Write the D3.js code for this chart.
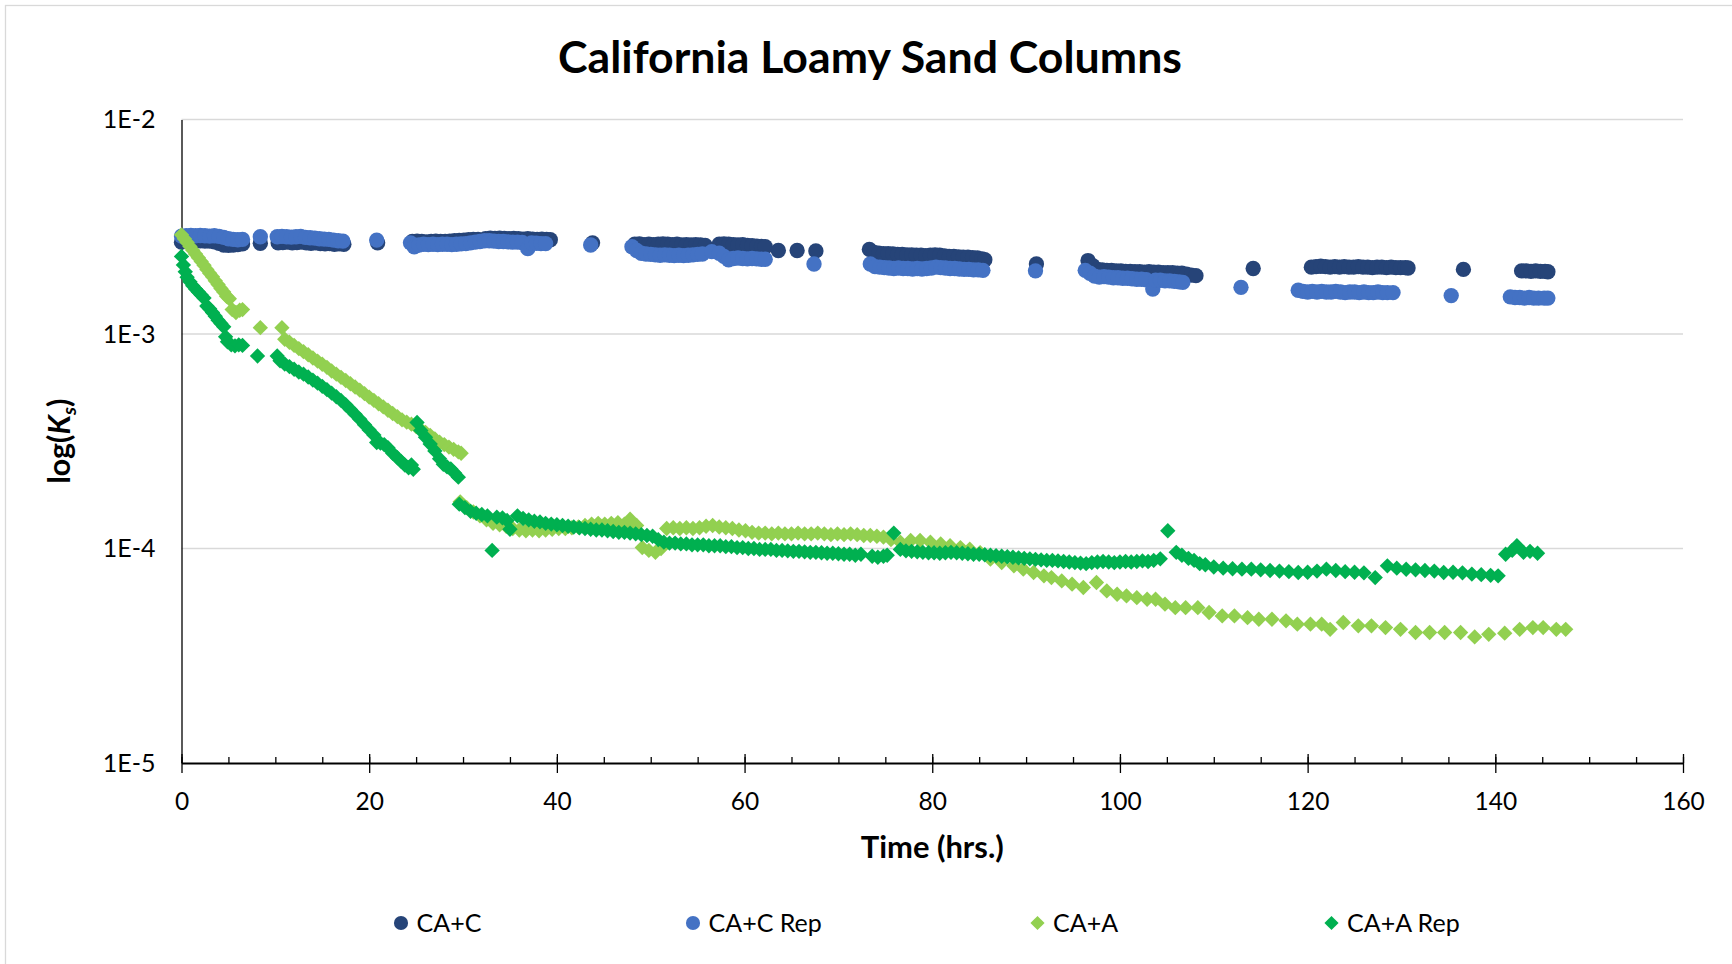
<!DOCTYPE html>
<html>
<head>
<meta charset="utf-8">
<script src="https://cdn.jsdelivr.net/npm/d3@7"></script>
<style>
  body { margin: 0; background: #fff; }
  svg { display: block; font-family: Lato, "Open Sans", sans-serif; }
</style>
</head>
<body>
<svg id="chart" width="1732" height="964"></svg>
<script>
const seriesNames = ['CA+C', 'CA+C Rep', 'CA+A', 'CA+A Rep'];
const xTicks = [0, 20, 40, 60, 80, 100, 120, 140, 160];
const yTicks = [1e-2, 1e-3, 1e-4, 1e-5];
const yTickLabels = ['1E-2', '1E-3', '1E-4', '1E-5'];

// [time (hrs), Ks]
const caC = [
  [0,2.68e-3],[0.5,2.72e-3],[1,2.74e-3],[1.5,2.73e-3],[2,2.72e-3],[2.5,2.71e-3],[3,2.71e-3],[3.5,2.69e-3],[4,2.65e-3],[4.5,2.60e-3],[5,2.59e-3],[5.5,2.60e-3],[6,2.61e-3],[6.5,2.63e-3],
  [8.4,2.65e-3],
  [10.3,2.66e-3],[10.8,2.67e-3],[11.3,2.68e-3],[11.8,2.66e-3],[12.3,2.67e-3],[12.8,2.68e-3],[13.3,2.66e-3],[13.8,2.65e-3],[14.3,2.66e-3],[14.8,2.64e-3],[15.3,2.63e-3],[15.8,2.64e-3],[16.3,2.62e-3],[16.8,2.63e-3],[17.3,2.62e-3],
  [20.9,2.66e-3],
  [24.6,2.70e-3],[25.1,2.71e-3],[25.6,2.70e-3],[26.1,2.69e-3],[26.6,2.70e-3],[27.1,2.71e-3],[27.6,2.70e-3],[28.1,2.70e-3],[28.6,2.71e-3],[29.1,2.72e-3],[29.6,2.73e-3],[30.1,2.74e-3],[30.6,2.75e-3],[31.1,2.76e-3],[31.6,2.76e-3],
  [32.4,2.78e-3],[32.9,2.80e-3],[33.4,2.79e-3],[33.9,2.80e-3],[34.4,2.79e-3],[34.9,2.78e-3],[35.4,2.79e-3],[35.9,2.78e-3],[36.4,2.77e-3],[36.9,2.78e-3],[37.4,2.77e-3],[37.9,2.76e-3],[38.4,2.77e-3],[38.9,2.76e-3],[39.3,2.75e-3],
  [43.8,2.66e-3],
  [48.3,2.62e-3],[48.8,2.63e-3],[49.3,2.61e-3],[49.8,2.62e-3],[50.3,2.61e-3],[50.8,2.62e-3],[51.3,2.63e-3],[51.8,2.62e-3],[52.3,2.61e-3],[52.8,2.62e-3],[53.3,2.60e-3],[53.8,2.61e-3],[54.3,2.60e-3],[54.8,2.61e-3],[55.3,2.60e-3],[55.8,2.59e-3],
  [57.3,2.62e-3],[57.8,2.63e-3],[58.3,2.62e-3],[58.8,2.61e-3],[59.3,2.60e-3],[59.8,2.61e-3],[60.3,2.59e-3],[60.8,2.58e-3],[61.3,2.57e-3],[61.8,2.56e-3],[62.2,2.55e-3],
  [63.6,2.45e-3],[65.6,2.45e-3],[67.6,2.44e-3],
  [73.3,2.48e-3],[73.8,2.40e-3],[74.3,2.38e-3],[74.8,2.37e-3],[75.3,2.37e-3],[75.8,2.36e-3],[76.3,2.35e-3],[76.8,2.35e-3],[77.3,2.34e-3],[77.8,2.34e-3],[78.3,2.33e-3],[78.8,2.33e-3],[79.3,2.32e-3],[79.8,2.33e-3],[80.3,2.34e-3],[80.8,2.33e-3],[81.3,2.31e-3],[81.8,2.30e-3],[82.3,2.30e-3],[82.8,2.29e-3],[83.3,2.28e-3],[83.8,2.28e-3],[84.3,2.27e-3],[84.8,2.26e-3],[85.3,2.24e-3],[85.6,2.22e-3],
  [91.1,2.12e-3],
  [96.6,2.20e-3],[97.1,2.08e-3],[97.6,2.00e-3],[98.1,1.99e-3],[98.6,1.98e-3],[99.1,1.98e-3],[99.6,1.97e-3],[100.1,1.97e-3],[100.6,1.96e-3],[101.1,1.96e-3],[101.6,1.95e-3],[102.1,1.95e-3],[102.6,1.94e-3],[103.1,1.95e-3],[103.6,1.94e-3],[104.1,1.94e-3],[104.6,1.93e-3],[105.1,1.93e-3],[105.6,1.93e-3],[106.1,1.92e-3],[106.6,1.92e-3],[107.1,1.90e-3],[107.6,1.88e-3],[108.1,1.87e-3],
  [114.2,2.02e-3],
  [120.4,2.05e-3],[120.9,2.06e-3],[121.4,2.07e-3],[121.9,2.06e-3],[122.4,2.05e-3],[122.9,2.06e-3],[123.4,2.05e-3],[123.9,2.06e-3],[124.4,2.05e-3],[124.9,2.05e-3],[125.4,2.06e-3],[125.9,2.05e-3],[126.4,2.05e-3],[126.9,2.04e-3],[127.4,2.05e-3],[127.9,2.05e-3],[128.4,2.04e-3],[128.9,2.05e-3],[129.4,2.04e-3],[129.9,2.04e-3],[130.4,2.04e-3],[130.7,2.03e-3],
  [136.6,2.00e-3],
  [142.8,1.97e-3],[143.3,1.97e-3],[143.8,1.96e-3],[144.3,1.97e-3],[144.8,1.96e-3],[145.3,1.96e-3],[145.6,1.95e-3]
];

const caCRep = [
  [0,2.86e-3],[0.5,2.87e-3],[1,2.88e-3],[1.5,2.87e-3],[2,2.88e-3],[2.5,2.87e-3],[3,2.86e-3],[3.5,2.87e-3],[4,2.85e-3],[4.5,2.82e-3],[5,2.78e-3],[5.5,2.76e-3],[6,2.75e-3],[6.5,2.76e-3],
  [8.4,2.84e-3],
  [10.2,2.84e-3],[10.7,2.85e-3],[11.2,2.84e-3],[11.7,2.83e-3],[12.2,2.84e-3],[12.7,2.85e-3],[13.2,2.82e-3],[13.7,2.81e-3],[14.2,2.80e-3],[14.7,2.78e-3],[15.2,2.77e-3],[15.7,2.76e-3],[16.2,2.74e-3],[16.7,2.72e-3],[17.2,2.71e-3],
  [20.8,2.74e-3],
  [24.4,2.66e-3],[24.8,2.55e-3],[25.3,2.60e-3],[25.8,2.62e-3],[26.3,2.61e-3],[26.8,2.62e-3],[27.3,2.61e-3],[27.8,2.62e-3],[28.3,2.62e-3],[28.8,2.61e-3],[29.3,2.62e-3],[29.8,2.63e-3],[30.3,2.64e-3],[30.8,2.66e-3],[31.3,2.68e-3],[31.8,2.70e-3],
  [32.3,2.72e-3],[32.8,2.72e-3],[33.3,2.71e-3],[33.8,2.70e-3],[34.3,2.70e-3],[34.8,2.69e-3],[35.3,2.68e-3],[35.8,2.68e-3],[36.3,2.67e-3],[36.9,2.50e-3],[37.3,2.66e-3],[37.8,2.65e-3],[38.3,2.64e-3],[38.8,2.64e-3],
  [43.6,2.60e-3],
  [48.0,2.55e-3],[48.5,2.45e-3],[49.0,2.38e-3],[49.5,2.36e-3],[50.0,2.35e-3],[50.5,2.34e-3],[51.0,2.33e-3],[51.5,2.34e-3],[52.0,2.33e-3],[52.5,2.32e-3],[53.0,2.33e-3],[53.5,2.32e-3],[54.0,2.33e-3],[54.5,2.34e-3],[55.0,2.35e-3],[55.5,2.36e-3],
  [56.5,2.42e-3],
  [57.3,2.38e-3],[57.8,2.30e-3],[58.3,2.22e-3],[58.8,2.25e-3],[59.3,2.26e-3],[59.8,2.25e-3],[60.3,2.24e-3],[60.8,2.25e-3],[61.3,2.24e-3],[61.8,2.23e-3],[62.2,2.23e-3],
  [67.4,2.12e-3],
  [73.4,2.12e-3],[73.9,2.06e-3],[74.4,2.05e-3],[74.9,2.04e-3],[75.4,2.03e-3],[75.9,2.02e-3],[76.4,2.03e-3],[76.9,2.02e-3],[77.4,2.02e-3],[77.9,2.01e-3],[78.4,2.02e-3],[78.9,2.01e-3],[79.4,2.02e-3],[79.9,2.03e-3],[80.4,2.05e-3],[80.9,2.04e-3],[81.4,2.03e-3],[81.9,2.02e-3],[82.4,2.02e-3],[82.9,2.01e-3],[83.4,2.00e-3],[83.9,2.00e-3],[84.4,1.99e-3],[84.9,1.99e-3],[85.4,1.98e-3],
  [91.0,1.97e-3],
  [96.3,1.98e-3],[96.8,1.92e-3],[97.3,1.86e-3],[97.8,1.84e-3],[98.3,1.85e-3],[98.8,1.84e-3],[99.3,1.83e-3],[99.8,1.83e-3],[100.3,1.82e-3],[100.8,1.82e-3],[101.3,1.81e-3],[101.8,1.80e-3],[102.3,1.80e-3],[102.8,1.79e-3],[103.5,1.62e-3],[103.8,1.78e-3],[104.3,1.78e-3],[104.8,1.77e-3],[105.3,1.77e-3],[105.8,1.76e-3],[106.3,1.75e-3],[106.7,1.74e-3],
  [112.9,1.65e-3],
  [119.0,1.60e-3],[119.5,1.58e-3],[120.0,1.57e-3],[120.5,1.58e-3],[121.0,1.57e-3],[121.5,1.58e-3],[122.0,1.57e-3],[122.5,1.57e-3],[123.0,1.58e-3],[123.5,1.57e-3],[124.0,1.56e-3],[124.5,1.57e-3],[125.0,1.57e-3],[125.5,1.56e-3],[126.0,1.57e-3],[126.5,1.56e-3],[127.0,1.56e-3],[127.5,1.57e-3],[128.0,1.56e-3],[128.5,1.56e-3],[129.1,1.56e-3],
  [135.3,1.51e-3],
  [141.6,1.49e-3],[142.1,1.48e-3],[142.6,1.48e-3],[143.1,1.47e-3],[143.6,1.48e-3],[144.1,1.47e-3],[144.6,1.47e-3],[145.2,1.47e-3],[145.6,1.47e-3]
];

const caA = [
  [0,2.90e-3],[0.3,2.78e-3],[0.6,2.67e-3],[0.9,2.56e-3],[1.2,2.46e-3],[1.5,2.36e-3],[1.8,2.27e-3],[2.1,2.18e-3],[2.4,2.09e-3],[2.7,2.00e-3],[3.0,1.92e-3],[3.3,1.85e-3],[3.6,1.77e-3],[3.9,1.70e-3],[4.2,1.63e-3],[4.5,1.57e-3],[4.8,1.50e-3],[5.1,1.46e-3],
  [5.4,1.30e-3],[5.8,1.26e-3],[6.2,1.29e-3],[6.5,1.30e-3],
  [8.4,1.07e-3],[10.7,1.07e-3],
  [11.0,9.45e-4],[11.5,9.15e-4],[12.0,8.85e-4],[12.5,8.55e-4],[13.0,8.27e-4],[13.5,8.00e-4],[14.0,7.73e-4],[14.5,7.48e-4],[15.0,7.23e-4],[15.5,6.99e-4],[16.0,6.72e-4],[16.5,6.50e-4],[17.0,6.28e-4],[17.5,6.07e-4],[18.0,5.86e-4],[18.5,5.66e-4],[19.0,5.47e-4],[19.5,5.27e-4],[20.0,5.08e-4],[20.5,4.90e-4],[21.0,4.73e-4],[21.5,4.57e-4],[22.0,4.41e-4],[22.5,4.26e-4],[23.0,4.12e-4],[23.5,3.98e-4],[24.0,3.88e-4],[24.5,3.80e-4],[25.0,3.70e-4],[25.5,3.59e-4],[26.0,3.48e-4],[26.5,3.37e-4],[27.0,3.24e-4],[27.5,3.13e-4],[28.0,3.05e-4],[28.5,2.97e-4],[29.0,2.90e-4],[29.5,2.82e-4],[29.8,2.78e-4],
  [29.7,1.65e-4],[30.4,1.55e-4],[31.1,1.48e-4],[31.8,1.42e-4],[32.5,1.36e-4],[33.2,1.31e-4],[33.9,1.29e-4],[34.6,1.27e-4],[35.3,1.24e-4],[36.0,1.22e-4],[36.7,1.21e-4],[37.4,1.22e-4],[38.1,1.21e-4],[38.8,1.22e-4],[39.5,1.23e-4],[40.2,1.24e-4],[40.9,1.24e-4],[41.6,1.25e-4],[42.3,1.26e-4],[43.0,1.28e-4],[43.7,1.30e-4],[44.4,1.31e-4],[45.1,1.30e-4],[45.8,1.31e-4],[46.5,1.32e-4],[47.2,1.30e-4],[47.8,1.37e-4],[48.5,1.28e-4],
  [49.1,1.01e-4],[49.8,9.8e-5],[50.5,9.6e-5],[51.1,1.00e-4],
  [51.7,1.24e-4],[52.4,1.25e-4],[53.1,1.24e-4],[53.8,1.25e-4],[54.5,1.24e-4],[55.2,1.25e-4],[55.9,1.27e-4],[56.6,1.28e-4],[57.3,1.26e-4],[58.0,1.25e-4],[58.7,1.24e-4],[59.4,1.22e-4],[60.1,1.21e-4],[60.8,1.19e-4],[61.5,1.18e-4],[62.2,1.18e-4],[62.9,1.17e-4],[63.6,1.18e-4],[64.3,1.17e-4],[65.0,1.17e-4],[65.7,1.18e-4],[66.4,1.17e-4],[67.1,1.17e-4],[67.8,1.18e-4],[68.5,1.17e-4],[69.2,1.16e-4],[69.9,1.17e-4],[70.6,1.16e-4],[71.3,1.17e-4],[72.0,1.16e-4],[72.7,1.15e-4],[73.4,1.15e-4],[74.1,1.14e-4],[74.8,1.13e-4],
  [75.6,1.10e-4],[76.6,1.07e-4],[77.7,1.09e-4],[78.7,1.09e-4],[79.8,1.07e-4],[80.9,1.05e-4],[81.9,1.03e-4],[83.0,1.01e-4],[84.0,9.93e-5],[85.1,9.57e-5],
  [86.2,8.92e-5],[87.4,8.60e-5],[88.7,8.30e-5],[89.7,8.01e-5],[90.8,7.73e-5],[91.9,7.46e-5],[92.7,7.32e-5],[93.8,7.06e-5],[94.9,6.82e-5],[96.1,6.58e-5],[97.5,6.94e-5],[98.6,6.34e-5],[99.7,6.12e-5],[100.7,6.01e-5],[101.8,5.90e-5],[102.9,5.80e-5],[103.8,5.80e-5],[104.8,5.50e-5],[105.9,5.30e-5],[107.0,5.30e-5],[108.3,5.30e-5],[109.5,5.03e-5],[110.9,4.85e-5],[112.2,4.85e-5],[113.6,4.76e-5],[114.8,4.68e-5],[116.2,4.68e-5],[117.7,4.60e-5],[118.9,4.44e-5],[120.3,4.44e-5],[121.5,4.44e-5],[122.4,4.20e-5],[123.8,4.52e-5],[125.4,4.36e-5],[126.8,4.36e-5],[128.3,4.28e-5],[129.9,4.20e-5],[131.5,4.06e-5],[133.0,4.06e-5],[134.6,4.06e-5],[136.3,4.06e-5],[137.8,3.87e-5],[139.3,3.98e-5],[141.0,4.03e-5],[142.6,4.20e-5],[144.0,4.28e-5],[145.1,4.28e-5],[146.5,4.20e-5],[147.5,4.20e-5]
];

const caARep = [
  [0,2.30e-3],[0.2,2.10e-3],[0.4,1.95e-3],[0.6,1.84e-3],[0.9,1.75e-3],[1.2,1.68e-3],[1.5,1.62e-3],[1.8,1.57e-3],[2.1,1.52e-3],[2.4,1.47e-3],[2.7,1.35e-3],[3.0,1.31e-3],[3.3,1.26e-3],[3.6,1.21e-3],[3.9,1.16e-3],[4.2,1.12e-3],[4.5,1.08e-3],[4.7,9.7e-4],
  [4.9,9.2e-4],[5.3,8.9e-4],[5.7,8.8e-4],[6.1,8.9e-4],[6.5,8.85e-4],
  [8.1,7.9e-4],
  [10.2,7.9e-4],[10.5,7.5e-4],[11.0,7.25e-4],[11.5,7.05e-4],[12.0,6.85e-4],[12.5,6.65e-4],[13.0,6.5e-4],[13.5,6.3e-4],[14.0,6.1e-4],[14.5,5.9e-4],[15.0,5.7e-4],[15.5,5.5e-4],[16.0,5.3e-4],[16.5,5.1e-4],[17.0,4.9e-4],[17.5,4.68e-4],[18.0,4.45e-4],[18.5,4.22e-4],[19.0,4.0e-4],[19.5,3.78e-4],[20.0,3.57e-4],[20.5,3.38e-4],[20.8,3.12e-4],[21.2,3.10e-4],[21.6,3.05e-4],[22.0,2.95e-4],[22.5,2.78e-4],[23.0,2.65e-4],[23.4,2.55e-4],[23.8,2.45e-4],[24.2,2.38e-4],[24.5,2.45e-4],[24.7,2.34e-4],
  [25.1,3.87e-4],[25.5,3.55e-4],[26.0,3.30e-4],[26.5,3.07e-4],[27.0,2.85e-4],[27.5,2.62e-4],[27.9,2.47e-4],[28.3,2.40e-4],[28.7,2.35e-4],[29.1,2.25e-4],[29.5,2.15e-4],
  [29.6,1.61e-4],[30.2,1.55e-4],[30.8,1.49e-4],[31.4,1.46e-4],[32.0,1.44e-4],[32.6,1.42e-4],[33.1,9.8e-5],[33.6,1.40e-4],[34.2,1.39e-4],[34.7,1.35e-4],[35.0,1.23e-4],[35.8,1.42e-4],[36.4,1.38e-4],[37.0,1.36e-4],[37.6,1.34e-4],[38.2,1.33e-4],[38.8,1.31e-4],[39.4,1.30e-4],[40.0,1.29e-4],[40.6,1.28e-4],[41.2,1.27e-4],[41.8,1.26e-4],[42.4,1.25e-4],[43.0,1.24e-4],[43.6,1.23e-4],[44.2,1.22e-4],[44.8,1.22e-4],[45.4,1.21e-4],[46.0,1.20e-4],[46.6,1.19e-4],[47.2,1.19e-4],[47.8,1.18e-4],[48.4,1.17e-4],[49.0,1.16e-4],[49.6,1.15e-4],[50.2,1.14e-4],[50.8,1.10e-4],[51.4,1.07e-4],[52.0,1.06e-4],[52.6,1.06e-4],[53.2,1.05e-4],[53.8,1.05e-4],[54.4,1.04e-4],[55.0,1.04e-4],[55.6,1.04e-4],[56.2,1.03e-4],[56.8,1.03e-4],[57.4,1.03e-4],[58.0,1.02e-4],[58.6,1.02e-4],[59.2,1.01e-4],[59.8,1.01e-4],[60.4,1.00e-4],[61.0,1.00e-4],[61.6,9.9e-5],[62.2,9.9e-5],[62.8,9.9e-5],[63.4,9.8e-5],[64.0,9.8e-5],[64.6,9.75e-5],[65.2,9.7e-5],[65.8,9.7e-5],[66.4,9.65e-5],[67.0,9.6e-5],[67.6,9.6e-5],[68.2,9.55e-5],[68.8,9.5e-5],[69.4,9.5e-5],[70.0,9.45e-5],[70.6,9.4e-5],[71.2,9.4e-5],[71.8,9.3e-5],[72.4,9.4e-5],[73.6,9.2e-5],[74.2,9.1e-5],[74.8,9.2e-5],[75.2,9.3e-5],
  [75.9,1.18e-4],
  [76.6,9.9e-5],[77.2,9.75e-5],[77.8,9.7e-5],[78.4,9.65e-5],[79.0,9.6e-5],[79.6,9.55e-5],[80.2,9.55e-5],[80.8,9.5e-5],[81.4,9.55e-5],[82.0,9.6e-5],[82.6,9.55e-5],[83.2,9.5e-5],[83.8,9.45e-5],[84.4,9.4e-5],[85.0,9.4e-5],[85.6,9.35e-5],[86.2,9.3e-5],[86.8,9.25e-5],[87.4,9.2e-5],[88.0,9.15e-5],[88.6,9.1e-5],[89.2,9.05e-5],[89.8,9.0e-5],[90.4,8.95e-5],[91.0,8.9e-5],[91.6,8.85e-5],[92.2,8.8e-5],[92.8,8.8e-5],[93.4,8.75e-5],[94.0,8.7e-5],[94.6,8.65e-5],[95.2,8.6e-5],[95.8,8.55e-5],[96.4,8.5e-5],[97.0,8.6e-5],[97.6,8.65e-5],[98.2,8.7e-5],[98.8,8.65e-5],[99.4,8.6e-5],[100.0,8.65e-5],[100.6,8.7e-5],[101.2,8.65e-5],[101.8,8.7e-5],[102.4,8.75e-5],[103.0,8.7e-5],[103.6,8.8e-5],[104.3,8.95e-5],
  [105.1,1.21e-4],
  [106.0,9.6e-5],[106.6,9.3e-5],[107.3,9.0e-5],[107.9,8.8e-5],[108.5,8.5e-5],[109.1,8.4e-5],[110.0,8.2e-5],[111.0,8.1e-5],[112.0,8.05e-5],[113.0,8.01e-5],[114.0,8.01e-5],[115.0,7.95e-5],[116.0,7.9e-5],[117.0,7.85e-5],[118.0,7.8e-5],[119.0,7.73e-5],[120.0,7.75e-5],[121.0,7.85e-5],[122.0,8.01e-5],[123.0,7.9e-5],[124.0,7.8e-5],[125.0,7.75e-5],[126.0,7.7e-5],[127.2,7.32e-5],[128.5,8.3e-5],[129.5,8.1e-5],[130.5,8.0e-5],[131.5,7.95e-5],[132.5,7.9e-5],[133.5,7.85e-5],[134.5,7.73e-5],[135.5,7.75e-5],[136.5,7.7e-5],[137.5,7.6e-5],[138.5,7.55e-5],[139.5,7.5e-5],[140.3,7.46e-5],
  [141.1,9.4e-5],[141.8,9.8e-5],[142.3,1.03e-4],[143.0,9.6e-5],[143.7,9.7e-5],[144.5,9.5e-5]
];

const seriesColors = ['#264478', '#4472C4', '#92D050', '#00B050'];
const seriesData = [caC, caCRep, caA, caARep];
const seriesSymbols = [d3.symbolCircle, d3.symbolCircle, d3.symbolDiamond2, d3.symbolDiamond2];
const symbolSizes = [185, 185, 150, 150];

const svg = d3.select('#chart');
const plotLeft = 181.5, plotRight = 1683, plotTop = 119.5, plotBottom = 763;

// outer chart border
svg.append('rect')
  .attr('x', 5.5).attr('y', 5.5)
  .attr('width', 1800).attr('height', 1000)
  .attr('fill', '#fff').attr('stroke', '#d9d9d9').attr('stroke-width', 1.3);

const x = d3.scaleLinear().domain([0, 160]).range([plotLeft, plotRight]);
const y = d3.scaleLog().domain([1e-5, 1e-2]).range([plotBottom, plotTop]);

function fitWidth(sel, w) {
  const len = sel.node().getComputedTextLength();
  const fs = parseFloat(sel.attr('font-size'));
  sel.attr('font-size', fs * w / len);
}

// gridlines
svg.append('g')
  .selectAll('line')
  .data(yTicks.slice(0, 3))
  .enter()
  .append('line')
  .attr('x1', plotLeft).attr('x2', plotRight)
  .attr('y1', d => y(d)).attr('y2', d => y(d))
  .attr('stroke', '#d9d9d9').attr('stroke-width', 1.5);

// x axis: minor ticks, major ticks up, major ticks down with labels
const xAxisG = svg.append('g').attr('transform', 'translate(0,' + plotBottom + ')');
xAxisG.append('g')
  .call(d3.axisBottom(x).tickValues(d3.range(0, 161, 5)).tickSize(-6).tickFormat(''))
  .call(g => g.select('.domain').remove());
xAxisG.append('g')
  .call(d3.axisBottom(x).tickValues(xTicks).tickSize(-9).tickFormat(''))
  .call(g => g.select('.domain').remove());
xAxisG.append('g')
  .call(d3.axisBottom(x).tickValues(xTicks).tickSizeInner(10).tickSizeOuter(0).tickPadding(20))
  .call(g => g.select('.domain').attr('stroke-width', 2))
  .call(g => g.selectAll('text').attr('font-size', 24.5).attr('font-family', 'Lato').attr('fill', '#000'));
xAxisG.selectAll('line').attr('stroke', '#000').attr('stroke-width', 1.3);

// y axis
svg.append('g')
  .attr('transform', 'translate(' + plotLeft + ',0)')
  .call(d3.axisLeft(y).tickValues(yTicks).tickFormat((d, i) => yTickLabels[i]).tickSize(0).tickPadding(26))
  .call(g => g.select('.domain').attr('stroke', '#000').attr('stroke-width', 1.3))
  .call(g => g.selectAll('text').attr('font-size', 25).attr('font-family', 'Lato').attr('fill', '#000'));

// series markers
seriesData.forEach((data, i) => {
  const sym = d3.symbol().type(seriesSymbols[i]).size(symbolSizes[i]);
  svg.append('g')
    .selectAll('path')
    .data(data)
    .enter()
    .append('path')
    .attr('d', sym)
    .attr('transform', d => 'translate(' + x(d[0]) + ',' + y(d[1]) + ')')
    .attr('fill', seriesColors[i]);
});

// title
const title = svg.append('text')
  .attr('x', 870).attr('y', 73)
  .attr('text-anchor', 'middle')
  .attr('font-size', 40).attr('font-weight', 'bold')
  .text('California Loamy Sand Columns');
fitWidth(title, 624);

// x axis title
const xTitle = svg.append('text')
  .attr('x', (plotLeft + plotRight) / 2).attr('y', 858)
  .attr('text-anchor', 'middle')
  .attr('font-size', 26).attr('font-weight', 'bold')
  .text('Time (hrs.)');
fitWidth(xTitle, 143);

// y axis title
const yTitle = svg.append('text')
  .attr('transform', 'translate(70,' + ((plotTop + plotBottom) / 2) + ') rotate(-90)')
  .attr('text-anchor', 'middle')
  .attr('font-size', 28).attr('font-weight', 'bold');
yTitle.append('tspan').text('log(');
yTitle.append('tspan').attr('font-style', 'italic').text('K');
yTitle.append('tspan').attr('font-style', 'italic').attr('font-size', '0.65em').attr('dy', 6).text('s');
yTitle.append('tspan').attr('dy', -6).text(')');
fitWidth(yTitle, 85);

// legend
const legendX = [401, 693, 1037.5, 1331.5];
const legend = svg.append('g');
seriesNames.forEach((name, i) => {
  const sym = d3.symbol().type(seriesSymbols[i]).size(symbolSizes[i] * 0.85);
  legend.append('path')
    .attr('d', sym)
    .attr('transform', 'translate(' + legendX[i] + ',923)')
    .attr('fill', seriesColors[i]);
  legend.append('text')
    .attr('x', legendX[i] + 15.5).attr('y', 923)
    .attr('dy', '0.36em')
    .attr('font-size', 25)
    .text(name);
});
</script>
</body>
</html>
